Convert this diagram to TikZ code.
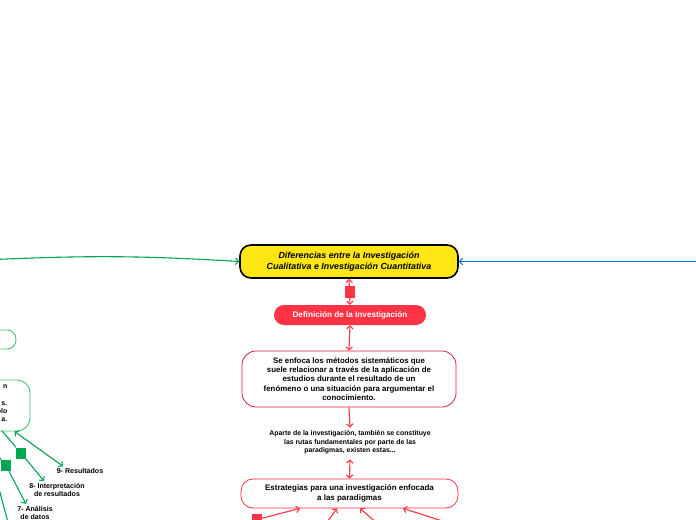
\documentclass[tikz,border=0pt]{standalone}
\usepackage{fontspec}
\setmainfont{Liberation Sans}
\usepackage{xcolor}
\usepackage{tikz}
\usetikzlibrary{arrows,arrows.meta}
\definecolor{mapyellow}{RGB}{255,230,20}
\definecolor{mapred}{RGB}{255,51,68}
\definecolor{mapcrimson}{RGB}{214,32,64}
\definecolor{mapgreen}{RGB}{0,166,81}
\definecolor{maplightgreen}{RGB}{70,195,120}
\definecolor{mapblue}{RGB}{0,122,200}
\tikzset{
  central/.style={draw=black, line width=1.6bp, fill=mapyellow, rounded corners=11bp, minimum width=218bp, minimum height=33bp, align=center, inner sep=0pt, font=\bfseries\itshape\fontsize{8.9}{11}\selectfont},
  redtopic/.style={fill=mapred, text=white, rounded corners=10bp, minimum width=152bp, minimum height=20bp, inner sep=0pt, font=\bfseries\fontsize{8.2}{10}\selectfont},
  redbox/.style={draw=mapcrimson, line width=0.8bp, fill=white, align=center, inner sep=0pt},
  plaintext/.style={align=center, inner sep=0pt},
  greenbox/.style={draw=maplightgreen, line width=0.9bp, fill=white, inner sep=0pt},
  greensq/.style={fill=mapgreen, minimum width=10bp, minimum height=11bp, inner sep=0pt},
  redsq/.style={fill=mapred, minimum width=10bp, minimum height=12bp, inner sep=0pt},
  redlink/.style={draw=mapred, line width=1.1bp},
  greenlink/.style={draw=mapgreen, line width=1.1bp},
  bluelink/.style={draw=mapblue, line width=1.1bp}
}
\begin{document}
\begin{tikzpicture}[x=1bp, y=-1bp, >={Straight Barb[length=3bp,width=6.5bp]}]
\useasboundingbox (0,0) rectangle (696,520);
\node[central] (central) at (349,261.5) {Diferencias entre la Investigación\\Cualitativa e Investigación Cuantitativa};
\node[redtopic] (definicion) at (350,315) {Definición de la Investigación};
\node[redbox, rounded corners=14bp, minimum width=214bp, minimum height=56bp, font=\bfseries\fontsize{7.9}{9.3}\selectfont] (enfoque) at (349,379) {Se enfoca los métodos sistemáticos que\\suele relacionar a través de la aplicación de\\estudios durante el resultado de un\\fenómeno o una situación para argumentar el\\conocimiento.};
\node[plaintext, font=\fontsize{6.9}{8.5}\selectfont\bfseries] (aparte) at (350,442.5) {Aparte de la investigación, también se constituye\\las rutas fundamentales por parte de las\\paradigmas, existen estas...};
\node[redbox, draw=mapred, rounded corners=12bp, minimum width=217bp, minimum height=29bp, font=\bfseries\fontsize{8}{9.5}\selectfont] (estrategias) at (349.5,493.5) {Estrategias para una investigación enfocada\\a las paradigmas};
\draw[redlink, <->] (central.south) -- node[redsq] (sqdef) {} (definicion.north);
\draw[redlink, <->] (definicion.south) -- (enfoque.north);
\draw[redlink, ->] (enfoque.south) -- ([yshift=3bp]aparte.north);
\draw[redlink, <->] ([yshift=-5bp]aparte.south) -- (estrategias.north);
\node[redsq, minimum height=8bp, anchor=north] (sqbottom) at (257,514) {};
\coordinate (tipa) at (300,0);
\coordinate (tipb) at (337,0);
\coordinate (tipc) at (360,0);
\coordinate (tipd) at (403,0);
\coordinate (srcb) at (325,525);
\coordinate (srcc) at (379,525);
\coordinate (srcd) at (455,525);
\draw[redlink, ->] (sqbottom.east) -- (estrategias.south -| tipa);
\draw[redlink, ->] (srcb) -- (estrategias.south -| tipb);
\draw[redlink, ->] (srcc) -- (estrategias.south -| tipc);
\draw[redlink, ->] (srcd) -- (estrategias.south -| tipd);
\coordinate (cualitativa) at (-5,259.5);
\coordinate (cuantitativa) at (700,261.5);
\draw[greenlink, ->] (cualitativa) to[bend left=3] (central.west);
\draw[bluelink, ->] (cuantitativa) -- (central.east);
\node[greenbox, rounded corners=9bp, minimum width=112bp, minimum height=19bp] (grtopic) at (-40,339.5) {};
\node[greenbox, rounded corners=13bp, minimum width=180bp, minimum height=51bp] (grbox) at (-60,405.5) {};
\node[plaintext, align=right, anchor=north east, font=\bfseries\fontsize{7}{8.2}\selectfont] (grtext) at (7.5,385) {n\\\mbox{}\\s.\\olo\\a.};
\node[plaintext, font=\bfseries\fontsize{7.1}{8.4}\selectfont] (resultados) at (80,471) {9- Resultados};
\node[plaintext, font=\bfseries\fontsize{7.1}{8.4}\selectfont] (interpretacion) at (57,490) {8- Interpretación\\de resultados};
\node[plaintext, font=\bfseries\fontsize{7.1}{8.4}\selectfont] (analisis) at (35,513) {7- Análisis\\de datos};
\node[greensq] (sqinter) at (21,453) {};
\node[greensq] (sqanal) at (6,465.5) {};
\coordinate (grfoot) at (2,431);
\coordinate (grleft) at (-12,444);
\coordinate (grlow) at (-6,470);
\coordinate (grdown) at (10,530);
\draw[greenlink, <->] (grbox.south east) ++(-16,0) coordinate (grcorner) (grcorner) -- ([xshift=-17bp,yshift=2bp]resultados.north);
\draw[greenlink] (grfoot) -- (sqinter);
\draw[greenlink, ->] (sqinter) -- ([xshift=-13bp,yshift=2bp]interpretacion.north);
\draw[greenlink] (grleft) -- (sqanal);
\draw[greenlink, ->] (sqanal) -- ([xshift=-9bp,yshift=2bp]analisis.north);
\draw[greenlink] (grlow) -- (grdown);
\end{tikzpicture}
\end{document}
